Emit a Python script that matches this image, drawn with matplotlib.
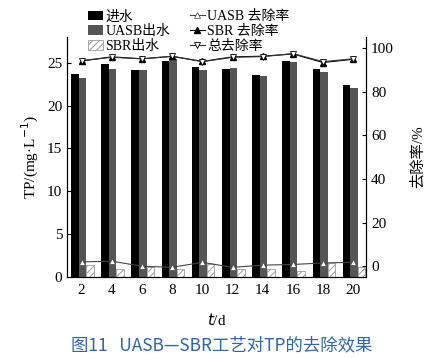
import numpy as np
import matplotlib.pyplot as plt
from matplotlib.font_manager import FontProperties
from matplotlib.legend_handler import HandlerPatch
from matplotlib.patches import Rectangle

plt.rcParams['font.family'] = ['Liberation Serif', 'Noto Sans CJK SC']
plt.rcParams['hatch.linewidth'] = 0.6

# --- data ---
days = [2, 4, 6, 8, 10, 12, 14, 16, 18, 20]
tp_in = [23.65, 24.8, 24.1, 25.2, 24.5, 24.3, 23.6, 25.2, 24.3, 22.4]
tp_uasb = [23.26, 24.3, 24.15, 25.4, 24.1, 24.4, 23.5, 25.1, 23.9, 22.1]
tp_sbr = [1.4, 1.0, 1.2, 1.0, 1.5, 1.0, 0.9, 0.7, 1.6, 1.15]
rate_uasb = [2.0, 2.3, 0.0, -0.5, 1.8, -0.5, 0.5, 0.8, 1.5, 1.8]
rate_sbr = [94.0, 95.9, 95.0, 96.1, 93.8, 95.9, 96.2, 97.2, 93.3, 94.8]
rate_total = [94.2, 95.7, 95.0, 96.2, 93.7, 95.7, 96.0, 97.4, 93.7, 95.0]

x = np.array(days, dtype=float)
w = 0.5


# narrow square-ish patch in the legend, pushed against the label
def small_patch(legend, orig_handle, xdescent, ydescent, width, height, fontsize):
    pw = width * 0.55
    return Rectangle((width - pw - xdescent, -ydescent), pw, height)


fig = plt.figure(figsize=(4.47, 3.59), dpi=100)
ax = fig.add_axes([0.150, 0.228, 0.669, 0.669])

b1 = ax.bar(x - 0.45, tp_in, w, color='black', label='进水')
b2 = ax.bar(x + 0.05, tp_uasb, w, color='#555555', label='UASB出水')
b3 = ax.bar(x + 0.55, tp_sbr, w, color='white', edgecolor='#8a8a8a',
            hatch='/////', linewidth=0.5, label='SBR出水')

ax.set_xlim(1.03, 20.85)
ax.set_ylim(0, 28)
ax.set_xticks(days)
ax.set_yticks([0, 5, 10, 15, 20, 25])
ax.tick_params(direction='in', length=3, labelsize=11, width=0.8)
ax.tick_params(axis='x', length=0, pad=5)
ax.spines['top'].set_visible(False)
ax.set_ylabel('TP/(mg·L$^{-1}$)', fontsize=11)
ax.set_xlabel('$t$/d', fontsize=11, labelpad=11)

ax2 = ax.twinx()
l1, = ax2.plot(x, rate_uasb, color='#444444', lw=0.8, marker='^', ms=4.5,
               mfc='white', mec='#444444', mew=0.5, label='UASB 去除率')
l2, = ax2.plot(x, rate_sbr, color='black', lw=0.8, marker='^', ms=4,
               mfc='black', mec='black', label='SBR 去除率')
l3, = ax2.plot(x, rate_total, color='#333333', lw=0.8, marker='v', ms=4.5,
               mfc='white', mec='black', mew=0.6, label='总去除率')
ax2.set_ylim(-5, 105)
ax2.set_yticks([0, 20, 40, 60, 80, 100])
ax2.tick_params(direction='in', length=3, labelsize=11, width=0.8)
ax2.spines['top'].set_visible(False)
ax2.set_ylabel('去除率/%', fontsize=11, labelpad=12)

fig.legend([b1, b2, b3, l1, l2, l3],
           ['进水', 'UASB出水', 'SBR出水', 'UASB 去除率', 'SBR 去除率', '总去除率'],
           loc='upper left', bbox_to_anchor=(0.178, 0.995), ncol=2,
           frameon=False, fontsize=10, handlelength=1.1, handletextpad=0.15,
           columnspacing=1.4, labelspacing=0.12, borderaxespad=0.2,
           handler_map={Rectangle: HandlerPatch(patch_func=small_patch)})

fig.text(0.495, 0.039, '图11   UASB—SBR工艺对TP的去除效果', ha='center', va='center',
         color='#2e64b0',
         fontproperties=FontProperties(family=['Noto Sans CJK SC'], weight='medium', size=12.5))

fig.savefig('out.png', dpi=100)
